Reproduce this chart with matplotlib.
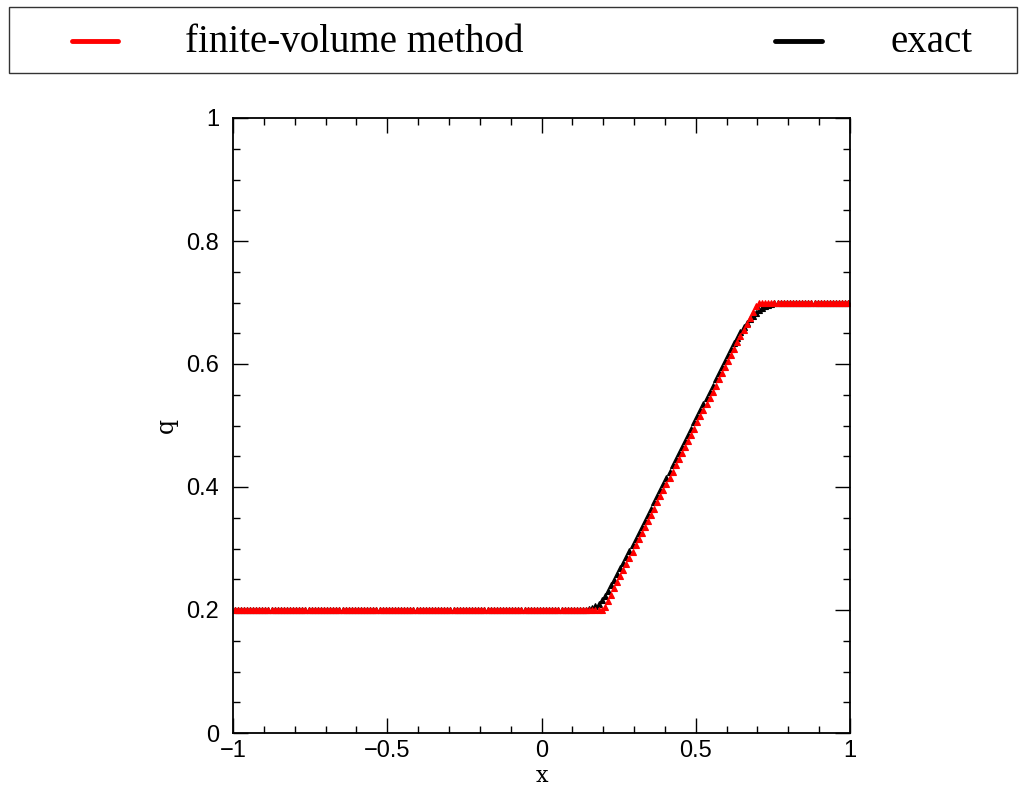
import numpy as np
import matplotlib
matplotlib.use("Agg")
import matplotlib.pyplot as plt
from matplotlib.lines import Line2D
from matplotlib.patches import Rectangle
from matplotlib.ticker import MultipleLocator, FuncFormatter

# cell-centre grid, 200 cells on [-1, 1]
x_cells = np.round(np.arange(-0.995, 1.0, 0.01), 3)

# red series (sharp profile)
red_ramp = [0.205, 0.215, 0.225, 0.235, 0.245, 0.255, 0.265, 0.275, 0.285, 0.295,
            0.305, 0.315, 0.325, 0.335, 0.345, 0.355, 0.365, 0.375, 0.385, 0.395,
            0.405, 0.415, 0.425, 0.435, 0.445, 0.455, 0.465, 0.475, 0.485, 0.495,
            0.505, 0.515, 0.525, 0.535, 0.545, 0.555, 0.565, 0.575, 0.585, 0.595,
            0.605, 0.615, 0.625, 0.635, 0.645, 0.655, 0.665, 0.675, 0.685, 0.695]
q_red = [0.2] * 120 + red_ramp + [0.7] * 30

# black series (smoothed profile)
black_ramp = [0.2000, 0.2001, 0.2004, 0.2012, 0.2030, 0.2060, 0.2105, 0.2165, 0.2235, 0.2315,
              0.2400, 0.2490, 0.2582, 0.2675, 0.2770, 0.2865, 0.2960, 0.3055, 0.3150, 0.3250,
              0.3350, 0.3450, 0.3550, 0.3650, 0.3750, 0.3850, 0.3950, 0.4050, 0.4150, 0.4250,
              0.4350, 0.4450, 0.4550, 0.4650, 0.4750, 0.4850, 0.4950, 0.5050, 0.5150, 0.5250,
              0.5350, 0.5450, 0.5550, 0.5650, 0.5750, 0.5850, 0.5950, 0.6050, 0.6150, 0.6245,
              0.6340, 0.6430, 0.6515, 0.6595, 0.6665, 0.6725, 0.6780, 0.6830, 0.6870, 0.6905,
              0.6935, 0.6958, 0.6975, 0.6987, 0.6994, 0.6998, 0.6999, 0.7000]
q_black = [0.2] * 112 + black_ramp + [0.7] * 20

legend_labels = ["finite-volume method", "exact"]

W, H = 1021, 789
fig = plt.figure(figsize=(W / 100, H / 100), dpi=100)
ax = fig.add_axes([233 / W, 1 - 733 / H, (850 - 233) / W, (733 - 118) / H])

ax.plot(x_cells, q_black, linestyle='none', marker='^', markersize=3.8,
        color='black', markeredgewidth=0.8)
ax.plot(x_cells, q_red, linestyle='none', marker='^', markersize=3.8,
        color='red', markeredgewidth=0.8)

ax.set_xlim(-1, 1)
ax.set_ylim(0, 1)
ax.xaxis.set_major_locator(MultipleLocator(0.5))
ax.xaxis.set_minor_locator(MultipleLocator(0.1))
ax.yaxis.set_major_locator(MultipleLocator(0.2))
ax.yaxis.set_minor_locator(MultipleLocator(0.05))


def fmt(v, pos):
    if abs(v) < 1e-9:
        return '0'
    s = '%g' % v
    return s.replace('-', '\u2212')


ax.xaxis.set_major_formatter(FuncFormatter(fmt))
ax.yaxis.set_major_formatter(FuncFormatter(fmt))
ax.tick_params(which='both', direction='in', top=True, right=True, width=1.0,
               labelsize=17, colors='black')
ax.tick_params(which='major', length=11)
ax.tick_params(which='minor', length=5)
ax.tick_params(axis='y', which='major', pad=10)
ax.tick_params(axis='x', which='major', pad=5)
for lab in ax.get_xticklabels() + ax.get_yticklabels():
    lab.set_family('Liberation Sans')
for s in ax.spines.values():
    s.set_linewidth(1.3)

ax.set_xlabel('x', fontsize=16, family='DejaVu Serif', va='center')
ax.xaxis.set_label_coords(0.5, -43 / 615)
ax.set_ylabel('q', fontsize=17, family='DejaVu Serif', labelpad=6)

# legend box
fig.add_artist(Rectangle((9 / W, 1 - 73 / H), (1017 - 9) / W, 66 / H,
                         transform=fig.transFigure, fill=False,
                         edgecolor='#333333', linewidth=1.0))
ly = 1 - 41 / H
fig.add_artist(Line2D([72 / W, 118 / W], [ly, ly], transform=fig.transFigure,
                      color='red', linewidth=3.5, solid_capstyle='round'))
fig.add_artist(Line2D([775 / W, 822 / W], [ly, ly], transform=fig.transFigure,
                      color='black', linewidth=3.5, solid_capstyle='round'))
ty = 1 - 43 / H
fig.text(185 / W, ty, legend_labels[0], fontsize=28, family='Liberation Serif',
         va='center', ha='left')
fig.text(890 / W, ty, legend_labels[1], fontsize=28, family='Liberation Serif',
         va='center', ha='left')

fig.savefig('out.png', dpi=100)
